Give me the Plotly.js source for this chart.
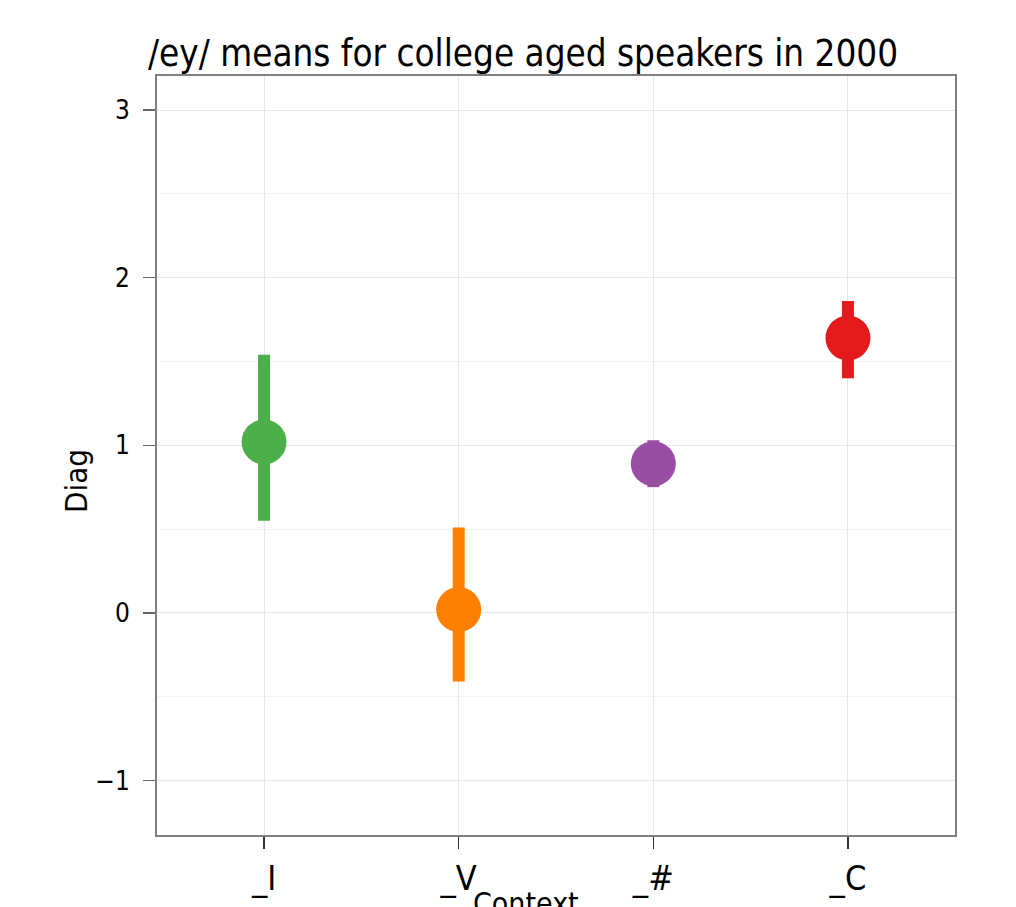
<!DOCTYPE html>
<html>
<head>
<meta charset="utf-8">
<script src="https://cdn.plot.ly/plotly-3.0.1.min.js"></script>
<style>html,body{margin:0;padding:0;background:#fff;}#chart{width:1016px;height:907px;}</style>
</head>
<body>
<div id="chart"></div>
<script>
const categories = ["_I", "_V", "_#", "_C"];
const means = [1.02, 0.02, 0.89, 1.64];
const upper = [1.54, 0.51, 1.03, 1.86];
const lower = [0.55, -0.41, 0.75, 1.40];
const colors = ["#4daf4a", "#ff7f00", "#984ea3", "#e41a1c"];

const FONT = "DejaVu Sans Condensed, DejaVu Sans, sans-serif";

const traces = categories.map((c, i) => ({
  type: "scatter",
  mode: "markers",
  x: [c],
  y: [means[i]],
  marker: {size: 45, color: colors[i]},
  error_y: {
    type: "data",
    symmetric: false,
    array: [upper[i] - means[i]],
    arrayminus: [means[i] - lower[i]],
    thickness: 12,
    width: 0,
    color: colors[i]
  },
  showlegend: false,
  hoverinfo: "x+y"
}));

const layout = {
  width: 1016,
  height: 907,
  margin: {l: 157, r: 61, t: 76, b: 72},
  paper_bgcolor: "#ffffff",
  plot_bgcolor: "#ffffff",
  font: {family: FONT, color: "#000"},
  title: {
    text: "/ey/ means for college aged speakers in 2000",
    font: {family: FONT, size: 36.5, color: "#000"},
    x: 148 / 1016, xanchor: "left", xref: "container",
    y: 1 - 66 / 907, yanchor: "bottom", yref: "container"
  },
  xaxis: {
    type: "category",
    categoryarray: categories,
    range: [-0.55, 3.55],
    showgrid: true,
    gridcolor: "#e6e6e6",
    gridwidth: 1,
    zeroline: false,
    showline: true,
    linecolor: "#808080",
    linewidth: 2,
    mirror: true,
    ticks: "outside",
    ticklen: 12,
    tickcolor: "#333",
    tickwidth: 1.5,
    tickfont: {family: FONT, size: 34, color: "#000"}
  },
  yaxis: {
    range: [-1.325, 3.203],
    dtick: 1,
    tick0: 0,
    showgrid: true,
    gridcolor: "#e6e6e6",
    gridwidth: 1,
    zeroline: false,
    showline: true,
    linecolor: "#808080",
    linewidth: 2,
    mirror: true,
    ticks: "outside",
    ticklen: 12,
    tickcolor: "#666",
    tickwidth: 1.5,
    ticklabelstandoff: 8,
    tickfont: {family: FONT, size: 26, color: "#000"},
    minor: {dtick: 0.5, tick0: 0, showgrid: true, gridcolor: "#f3f3f3", gridwidth: 1}
  },
  annotations: [
    {
      text: "Context",
      xref: "paper", yref: "paper",
      x: (526 - 157) / 798, y: -(884 - 835) / 759,
      xanchor: "center", yanchor: "top",
      showarrow: false,
      font: {family: FONT, size: 30, color: "#000"}
    },
    {
      text: "Diag",
      xref: "paper", yref: "paper",
      x: (76 - 157) / 798, y: (835 - 481) / 759,
      xanchor: "center", yanchor: "middle",
      textangle: -90,
      showarrow: false,
      font: {family: FONT, size: 31, color: "#000"}
    }
  ]
};

Plotly.newPlot("chart", traces, layout, {displayModeBar: false, staticPlot: true});
</script>
</body>
</html>
